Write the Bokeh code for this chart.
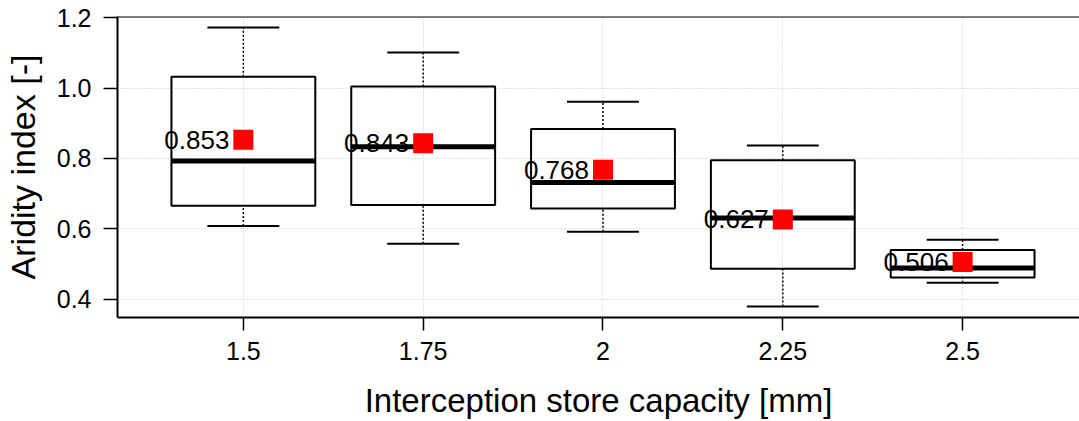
from bokeh.plotting import figure
from bokeh.models import Range1d, FixedTicker, Span, ColumnDataSource
from bokeh.core.properties import value
from bokeh.embed import file_html
from bokeh.resources import INLINE

# ---- data ----
categories = ["1.5", "1.75", "2", "2.25", "2.5"]
lower_whisker = [0.608, 0.558, 0.592, 0.380, 0.447]
q1 = [0.666, 0.668, 0.658, 0.487, 0.462]
median = [0.793, 0.833, 0.732, 0.631, 0.489]
q3 = [1.032, 1.004, 0.884, 0.795, 0.540]
upper_whisker = [1.172, 1.101, 0.961, 0.837, 0.569]
means = [0.853, 0.843, 0.768, 0.627, 0.506]
y_ticks = [0.4, 0.6, 0.8, 1.0, 1.2]
y_tick_labels = ["0.4", "0.6", "0.8", "1.0", "1.2"]

FONT = "Liberation Sans"
BOX_W = 0.8
CAP_W = 0.4

xpos = [i + 1 for i in range(len(categories))]
src = ColumnDataSource(dict(
    x=xpos,
    left=[x - BOX_W / 2 for x in xpos],
    right=[x + BOX_W / 2 for x in xpos],
    cl=[x - CAP_W / 2 for x in xpos],
    cr=[x + CAP_W / 2 for x in xpos],
    lw=lower_whisker, q1=q1, med=median, q3=q3, uw=upper_whisker,
    mean=means, label=[f"{m:.3f}" for m in means],
))

y_start, y_end = 0.3486, 1.203
p = figure(width=1079, height=421,
           x_range=Range1d(0.30, 5.65), y_range=Range1d(y_start, y_end),
           output_backend="svg", toolbar_location=None,
           min_border_left=116, min_border_right=0, min_border_top=16,
           min_border_bottom=104)
p.outline_line_color = None
p.background_fill_color = "white"
p.border_fill_color = "white"

# grid
p.xgrid.ticker = FixedTicker(ticks=xpos)
p.ygrid.ticker = FixedTicker(ticks=y_ticks)
for g in (p.xgrid, p.ygrid):
    g.grid_line_color = "#c8c8c8"
    g.grid_line_dash = "1 2"
    g.grid_line_width = 1

# axes
p.xaxis.ticker = FixedTicker(ticks=xpos)
p.xaxis.major_label_overrides = {x: c for x, c in zip(xpos, categories)}
p.yaxis.ticker = FixedTicker(ticks=y_ticks)
p.yaxis.major_label_overrides = {t: l for t, l in zip(y_ticks, y_tick_labels)}
p.xaxis.axis_label = "Interception store capacity [mm]"
p.yaxis.axis_label = "Aridity index [-]"
for ax in (p.xaxis, p.yaxis):
    ax.axis_line_width = 2
    ax.axis_line_color = "black"
    ax.major_tick_line_color = "black"
    ax.major_tick_line_width = 1.5
    ax.major_tick_in = 0
    ax.minor_tick_line_color = None
    ax.major_label_text_font = FONT
    ax.major_label_text_font_size = "25px"
    ax.major_label_text_color = "black"
    ax.axis_label_text_font = FONT
    ax.axis_label_text_font_style = "normal"
    ax.axis_label_text_color = "black"
p.xaxis.major_tick_out = 13
p.xaxis.major_label_standoff = 11
p.xaxis.axis_label_text_font_size = "33px"
p.xaxis.axis_label_standoff = 19
p.yaxis.major_tick_out = 14
p.yaxis.major_label_standoff = 12
p.yaxis.axis_label_text_font_size = "34px"
p.yaxis.axis_label_standoff = 12

# top border line
p.add_layout(Span(location=y_end, dimension="width", line_color="black", line_width=2))

# boxes
p.quad(left="left", right="right", bottom="q1", top="q3", source=src,
       fill_alpha=0, line_color="black", line_width=2)
# whiskers (dashed)
p.segment(x0="x", x1="x", y0="q3", y1="uw", source=src,
          line_color="black", line_width=1.5, line_dash="2 2")
p.segment(x0="x", x1="x", y0="lw", y1="q1", source=src,
          line_color="black", line_width=1.5, line_dash="2 2")
# caps
p.segment(x0="cl", x1="cr", y0="uw", y1="uw", source=src,
          line_color="black", line_width=2)
p.segment(x0="cl", x1="cr", y0="lw", y1="lw", source=src,
          line_color="black", line_width=2)
# medians
p.segment(x0="left", x1="right", y0="med", y1="med", source=src,
          line_color="black", line_width=5, line_cap="butt")
# mean labels
p.text(x="x", y="mean", text="label", source=src, x_offset=-14,
       text_align="right", text_baseline="middle",
       text_font=value(FONT), text_font_size="26px", text_color="black")
# mean markers
p.scatter(x="x", y="mean", source=src, marker="square", size=20,
          fill_color="#ff0000", line_color=None)

open("out.html", "w").write(file_html(p, INLINE))
